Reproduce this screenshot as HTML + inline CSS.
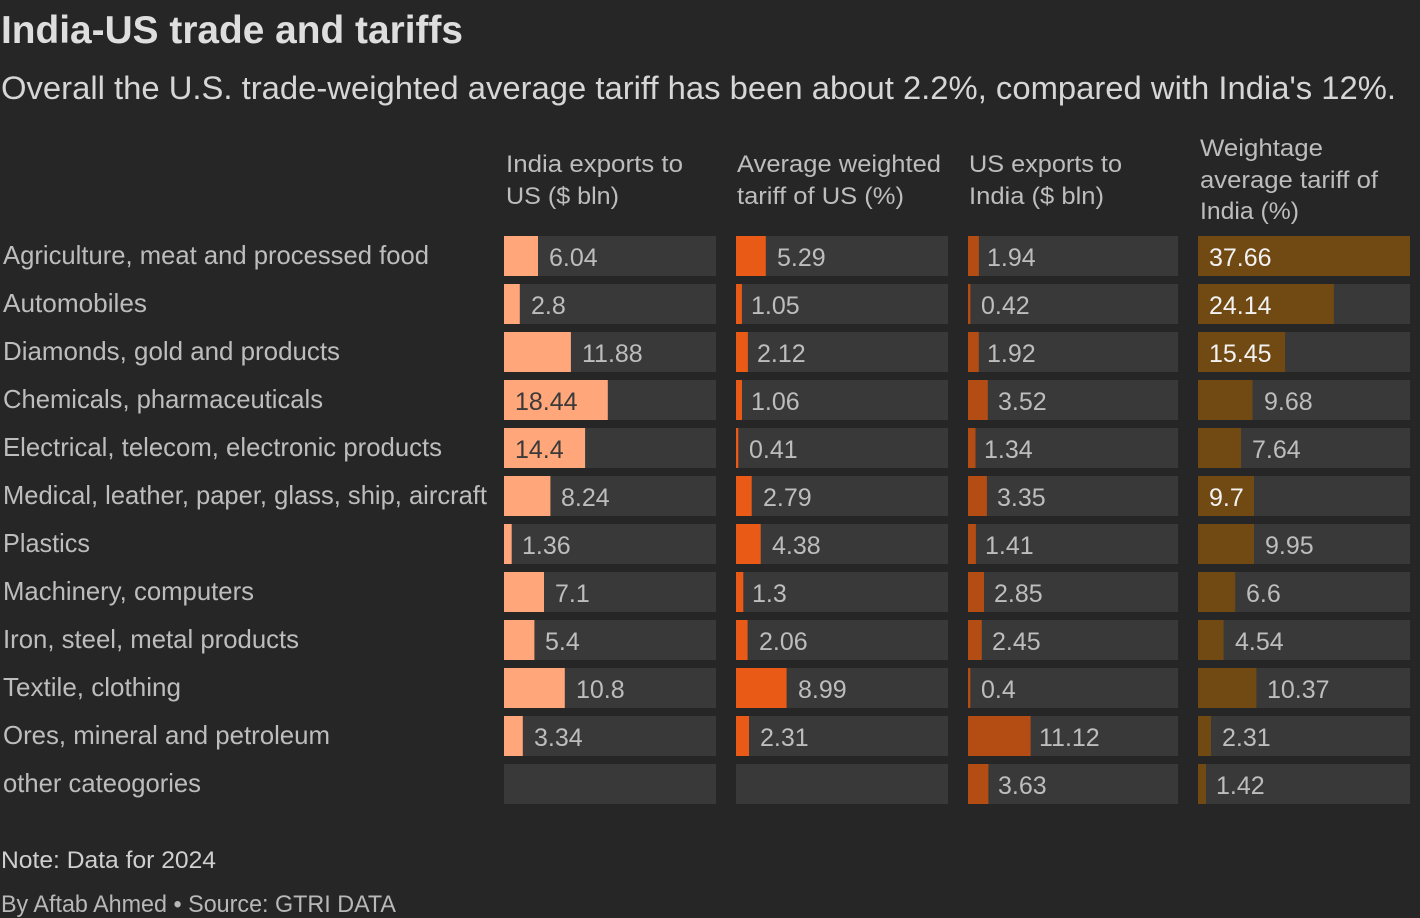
<!DOCTYPE html>
<html>
<head>
<meta charset="utf-8">
<style>
  html,body{margin:0;padding:0;background:#262626;}
  svg{display:block;}
  text{font-family:"Liberation Sans","DejaVu Sans",sans-serif;}
  .cat{font-size:26px;fill:#bdbdbd;}
  .hd{font-size:24px;fill:#bdbdbd;}
  .v{font-size:25px;fill:#bdbdbd;}
  .vd{font-size:25px;fill:#3a3a3a;}
  .vw{font-size:25px;fill:#f2f2f2;}
  .tr{fill:#393939;}
  .c1{fill:#ffa67a;}
  .c2{fill:#e95a17;}
  .c3{fill:#b34d13;}
  .c4{fill:#714913;}
</style>
</head>
<body>
<svg width="1420" height="918" viewBox="0 0 1420 918" xmlns="http://www.w3.org/2000/svg">
  <rect x="0" y="0" width="1420" height="918" fill="#262626"/>

  <!-- Title & subtitle -->
  <text x="1" y="43" font-size="39" font-weight="bold" fill="#dedede" textLength="462" lengthAdjust="spacingAndGlyphs">India-US trade and tariffs</text>
  <text x="1" y="99" font-size="32" fill="#d6d6d6" textLength="1395" lengthAdjust="spacingAndGlyphs">Overall the U.S. trade-weighted average tariff has been about 2.2%, compared with India's 12%.</text>

  <!-- Column headers -->
  <text class="hd" x="506" y="172" textLength="177" lengthAdjust="spacingAndGlyphs">India exports to</text>
  <text class="hd" x="506" y="204" textLength="113" lengthAdjust="spacingAndGlyphs">US ($ bln)</text>
  <text class="hd" x="737" y="172" textLength="204" lengthAdjust="spacingAndGlyphs">Average weighted</text>
  <text class="hd" x="737" y="204" textLength="167" lengthAdjust="spacingAndGlyphs">tariff of US (%)</text>
  <text class="hd" x="969" y="172" textLength="153" lengthAdjust="spacingAndGlyphs">US exports to</text>
  <text class="hd" x="969" y="204" textLength="135" lengthAdjust="spacingAndGlyphs">India ($ bln)</text>
  <text class="hd" x="1200" y="156" textLength="123" lengthAdjust="spacingAndGlyphs">Weightage</text>
  <text class="hd" x="1200" y="188" textLength="178" lengthAdjust="spacingAndGlyphs">average tariff of</text>
  <text class="hd" x="1200" y="219" textLength="99" lengthAdjust="spacingAndGlyphs">India (%)</text>

  <!-- Category labels -->
  <text class="cat" x="3" y="264" textLength="426" lengthAdjust="spacingAndGlyphs">Agriculture, meat and processed food</text>
  <text class="cat" x="3" y="312" textLength="144" lengthAdjust="spacingAndGlyphs">Automobiles</text>
  <text class="cat" x="3" y="360" textLength="337" lengthAdjust="spacingAndGlyphs">Diamonds, gold and products</text>
  <text class="cat" x="3" y="408" textLength="320" lengthAdjust="spacingAndGlyphs">Chemicals, pharmaceuticals</text>
  <text class="cat" x="3" y="456" textLength="439" lengthAdjust="spacingAndGlyphs">Electrical, telecom, electronic products</text>
  <text class="cat" x="3" y="504" textLength="484" lengthAdjust="spacingAndGlyphs">Medical, leather, paper, glass, ship, aircraft</text>
  <text class="cat" x="3" y="552" textLength="87" lengthAdjust="spacingAndGlyphs">Plastics</text>
  <text class="cat" x="3" y="600" textLength="251" lengthAdjust="spacingAndGlyphs">Machinery, computers</text>
  <text class="cat" x="3" y="648" textLength="296" lengthAdjust="spacingAndGlyphs">Iron, steel, metal products</text>
  <text class="cat" x="3" y="696" textLength="178" lengthAdjust="spacingAndGlyphs">Textile, clothing</text>
  <text class="cat" x="3" y="744" textLength="327" lengthAdjust="spacingAndGlyphs">Ores, mineral and petroleum</text>
  <text class="cat" x="3" y="792" textLength="198" lengthAdjust="spacingAndGlyphs">other cateogories</text>

  <!-- Tracks -->
  <g class="tr">
    <rect x="504" y="236" width="212" height="40"/><rect x="736" y="236" width="212" height="40"/><rect x="968" y="236" width="210" height="40"/><rect x="1198" y="236" width="212" height="40"/>
    <rect x="504" y="284" width="212" height="40"/><rect x="736" y="284" width="212" height="40"/><rect x="968" y="284" width="210" height="40"/><rect x="1198" y="284" width="212" height="40"/>
    <rect x="504" y="332" width="212" height="40"/><rect x="736" y="332" width="212" height="40"/><rect x="968" y="332" width="210" height="40"/><rect x="1198" y="332" width="212" height="40"/>
    <rect x="504" y="380" width="212" height="40"/><rect x="736" y="380" width="212" height="40"/><rect x="968" y="380" width="210" height="40"/><rect x="1198" y="380" width="212" height="40"/>
    <rect x="504" y="428" width="212" height="40"/><rect x="736" y="428" width="212" height="40"/><rect x="968" y="428" width="210" height="40"/><rect x="1198" y="428" width="212" height="40"/>
    <rect x="504" y="476" width="212" height="40"/><rect x="736" y="476" width="212" height="40"/><rect x="968" y="476" width="210" height="40"/><rect x="1198" y="476" width="212" height="40"/>
    <rect x="504" y="524" width="212" height="40"/><rect x="736" y="524" width="212" height="40"/><rect x="968" y="524" width="210" height="40"/><rect x="1198" y="524" width="212" height="40"/>
    <rect x="504" y="572" width="212" height="40"/><rect x="736" y="572" width="212" height="40"/><rect x="968" y="572" width="210" height="40"/><rect x="1198" y="572" width="212" height="40"/>
    <rect x="504" y="620" width="212" height="40"/><rect x="736" y="620" width="212" height="40"/><rect x="968" y="620" width="210" height="40"/><rect x="1198" y="620" width="212" height="40"/>
    <rect x="504" y="668" width="212" height="40"/><rect x="736" y="668" width="212" height="40"/><rect x="968" y="668" width="210" height="40"/><rect x="1198" y="668" width="212" height="40"/>
    <rect x="504" y="716" width="212" height="40"/><rect x="736" y="716" width="212" height="40"/><rect x="968" y="716" width="210" height="40"/><rect x="1198" y="716" width="212" height="40"/>
    <rect x="504" y="764" width="212" height="40"/><rect x="736" y="764" width="212" height="40"/><rect x="968" y="764" width="210" height="40"/><rect x="1198" y="764" width="212" height="40"/>
  </g>

  <!-- Column 1: India exports to US -->
  <g class="c1">
    <rect x="504" y="236" width="34.0" height="40"/>
    <rect x="504" y="284" width="15.8" height="40"/>
    <rect x="504" y="332" width="66.9" height="40"/>
    <rect x="504" y="380" width="103.8" height="40"/>
    <rect x="504" y="428" width="81.1" height="40"/>
    <rect x="504" y="476" width="46.4" height="40"/>
    <rect x="504" y="524" width="7.7" height="40"/>
    <rect x="504" y="572" width="40.0" height="40"/>
    <rect x="504" y="620" width="30.4" height="40"/>
    <rect x="504" y="668" width="60.8" height="40"/>
    <rect x="504" y="716" width="18.8" height="40"/>
  </g>
  <text class="v" x="549" y="266">6.04</text>
  <text class="v" x="531" y="314">2.8</text>
  <text class="v" x="582" y="362">11.88</text>
  <text class="vd" x="515" y="410">18.44</text>
  <text class="vd" x="515" y="458">14.4</text>
  <text class="v" x="561" y="506">8.24</text>
  <text class="v" x="522" y="554">1.36</text>
  <text class="v" x="555" y="602">7.1</text>
  <text class="v" x="545" y="650">5.4</text>
  <text class="v" x="576" y="698">10.8</text>
  <text class="v" x="534" y="746">3.34</text>

  <!-- Column 2: Avg weighted tariff of US -->
  <g class="c2">
    <rect x="736" y="236" width="29.8" height="40"/>
    <rect x="736" y="284" width="5.9" height="40"/>
    <rect x="736" y="332" width="11.9" height="40"/>
    <rect x="736" y="380" width="6.0" height="40"/>
    <rect x="736" y="428" width="2.3" height="40"/>
    <rect x="736" y="476" width="15.7" height="40"/>
    <rect x="736" y="524" width="24.7" height="40"/>
    <rect x="736" y="572" width="7.3" height="40"/>
    <rect x="736" y="620" width="11.6" height="40"/>
    <rect x="736" y="668" width="50.6" height="40"/>
    <rect x="736" y="716" width="13.0" height="40"/>
  </g>
  <text class="v" x="777" y="266">5.29</text>
  <text class="v" x="751" y="314">1.05</text>
  <text class="v" x="757" y="362">2.12</text>
  <text class="v" x="751" y="410">1.06</text>
  <text class="v" x="749" y="458">0.41</text>
  <text class="v" x="763" y="506">2.79</text>
  <text class="v" x="772" y="554">4.38</text>
  <text class="v" x="752" y="602">1.3</text>
  <text class="v" x="759" y="650">2.06</text>
  <text class="v" x="798" y="698">8.99</text>
  <text class="v" x="760" y="746">2.31</text>

  <!-- Column 3: US exports to India -->
  <g class="c3">
    <rect x="968" y="236" width="10.9" height="40"/>
    <rect x="968" y="284" width="2.4" height="40"/>
    <rect x="968" y="332" width="10.8" height="40"/>
    <rect x="968" y="380" width="19.8" height="40"/>
    <rect x="968" y="428" width="7.5" height="40"/>
    <rect x="968" y="476" width="18.9" height="40"/>
    <rect x="968" y="524" width="7.9" height="40"/>
    <rect x="968" y="572" width="16.0" height="40"/>
    <rect x="968" y="620" width="13.8" height="40"/>
    <rect x="968" y="668" width="2.3" height="40"/>
    <rect x="968" y="716" width="62.6" height="40"/>
    <rect x="968" y="764" width="20.4" height="40"/>
  </g>
  <text class="v" x="987" y="266">1.94</text>
  <text class="v" x="981" y="314">0.42</text>
  <text class="v" x="987" y="362">1.92</text>
  <text class="v" x="998" y="410">3.52</text>
  <text class="v" x="984" y="458">1.34</text>
  <text class="v" x="997" y="506">3.35</text>
  <text class="v" x="985" y="554">1.41</text>
  <text class="v" x="994" y="602">2.85</text>
  <text class="v" x="992" y="650">2.45</text>
  <text class="v" x="981" y="698">0.4</text>
  <text class="v" x="1039" y="746">11.12</text>
  <text class="v" x="998" y="794">3.63</text>

  <!-- Column 4: Weighted avg tariff of India -->
  <g class="c4">
    <rect x="1198" y="236" width="212" height="40"/>
    <rect x="1198" y="284" width="135.9" height="40"/>
    <rect x="1198" y="332" width="87.0" height="40"/>
    <rect x="1198" y="380" width="54.5" height="40"/>
    <rect x="1198" y="428" width="43.0" height="40"/>
    <rect x="1198" y="476" width="56" height="40"/>
    <rect x="1198" y="524" width="56" height="40"/>
    <rect x="1198" y="572" width="37.2" height="40"/>
    <rect x="1198" y="620" width="25.6" height="40"/>
    <rect x="1198" y="668" width="58.4" height="40"/>
    <rect x="1198" y="716" width="13.0" height="40"/>
    <rect x="1198" y="764" width="8.0" height="40"/>
  </g>
  <text class="vw" x="1209" y="266">37.66</text>
  <text class="vw" x="1209" y="314">24.14</text>
  <text class="vw" x="1209" y="362">15.45</text>
  <text class="v" x="1264" y="410">9.68</text>
  <text class="v" x="1252" y="458">7.64</text>
  <text class="vw" x="1209" y="506">9.7</text>
  <text class="v" x="1265" y="554">9.95</text>
  <text class="v" x="1246" y="602">6.6</text>
  <text class="v" x="1235" y="650">4.54</text>
  <text class="v" x="1267" y="698">10.37</text>
  <text class="v" x="1222" y="746">2.31</text>
  <text class="v" x="1216" y="794">1.42</text>

  <!-- Footer -->
  <text x="1" y="868" font-size="24" fill="#cfcfcf" textLength="215" lengthAdjust="spacingAndGlyphs">Note: Data for 2024</text>
  <text x="1" y="912" font-size="24" fill="#b8b8b8" textLength="395" lengthAdjust="spacingAndGlyphs">By Aftab Ahmed • Source: GTRI DATA</text>
</svg>
</body>
</html>
